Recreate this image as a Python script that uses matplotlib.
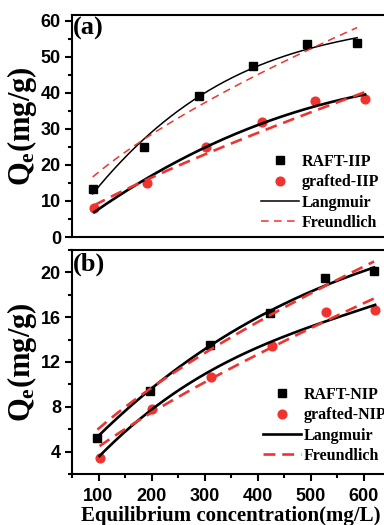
import numpy as np
import matplotlib
matplotlib.use("Agg")
import matplotlib.pyplot as plt
from matplotlib.ticker import MultipleLocator

plt.rcParams["mathtext.fontset"] = "custom"
plt.rcParams["mathtext.rm"] = "Liberation Serif:bold"
plt.rcParams["mathtext.bf"] = "Liberation Serif:bold"
plt.rcParams["mathtext.it"] = "Liberation Serif:bold"

RED = "#EF3430"

# ---- (a) imprinted polymers ----
raft_iip_c = [89, 186, 289, 392, 493, 588]
raft_iip_q = [13.3, 24.9, 39.0, 47.4, 53.5, 53.7]
graft_iip_c = [92, 192, 302, 409, 509, 603]
graft_iip_q = [8.1, 15.0, 25.0, 31.8, 37.7, 38.3]
# Langmuir fitted values at the measured concentrations
raft_iip_lang = [12.1, 26.8, 39.3, 47.0, 51.8, 55.4]
graft_iip_lang = [7.0, 16.0, 25.3, 31.4, 36.2, 39.6]
# Freundlich parameters (KF, 1/n)
raft_iip_freund = (0.853, 0.662)
graft_iip_freund = (0.228, 0.808)

# ---- (b) non-imprinted polymers ----
raft_nip_c = [98, 197, 311, 424, 528, 620]
raft_nip_q = [5.2, 9.45, 13.5, 16.4, 19.5, 20.1]
graft_nip_c = [102, 201, 312, 427, 530, 622]
graft_nip_q = [3.46, 7.83, 10.64, 13.42, 16.5, 16.65]
raft_nip_lang = [5.3, 9.55, 13.5, 16.45, 18.95, 20.4]
graft_nip_lang = [3.6, 7.8, 11.2, 13.85, 15.65, 17.1]
raft_nip_freund = (0.2614, 0.682)
graft_nip_freund = (0.1334, 0.760)

x_ticks = [100, 200, 300, 400, 500, 600]


def langmuir_line(ax, c, q, **kw):
    # smooth cubic through the fitted values
    coef = np.polyfit(c, q, 3)
    xs = np.linspace(c[0], c[-1], 300)
    return ax.plot(xs, np.polyval(coef, xs), **kw)[0]


def freundlich_line(ax, c, params, **kw):
    kf, inv_n = params
    xs = np.linspace(c[0], c[-1], 300)
    return ax.plot(xs, kf * xs ** inv_n, **kw)[0]


fig = plt.figure(figsize=(3.84, 5.25), dpi=100)
W, H = 384.0, 525.0
left, right = 72 / W, 390 / W
ax_a = fig.add_axes([left, 1 - 237 / H, right - left, 222 / H])
ax_b = fig.add_axes([left, 1 - 474 / H, right - left, 224 / H])

serif = "Liberation Serif"

for ax in (ax_a, ax_b):
    for sp in ax.spines.values():
        sp.set_linewidth(1.5)
    ax.set_xlim(50, 650)
    ax.tick_params(which="major", direction="out", length=5, width=1.5, pad=3)
    ax.tick_params(which="minor", direction="out", length=3, width=1.5)
    ax.tick_params(axis="x", pad=5)

legend_kw = dict(loc="upper left", bbox_transform=fig.transFigure, frameon=False,
                 borderpad=0, borderaxespad=0, handlelength=2.4, handletextpad=0.12,
                 labelspacing=0.27, prop=dict(family=serif, weight="bold", size=11.5))

# (a)
ms_sq, ms_c = 5.2, 6.3
h1, = ax_a.plot(raft_iip_c, raft_iip_q, "s", color="black", ms=ms_sq, ls="none")
h2, = ax_a.plot(graft_iip_c, graft_iip_q, "o", color=RED, ms=ms_c, ls="none")
h3 = langmuir_line(ax_a, raft_iip_c, raft_iip_lang, color="black", lw=1.1)
h4 = freundlich_line(ax_a, raft_iip_c, raft_iip_freund, color=RED, lw=1.1,
                     ls=(0, (5, 3.5)))
langmuir_line(ax_a, graft_iip_c, graft_iip_lang, color="black", lw=1.9)
freundlich_line(ax_a, graft_iip_c, graft_iip_freund, color=RED, lw=1.9,
                ls=(0, (4.5, 2.6)))
ax_a.set_ylim(0, 61.6)
ax_a.yaxis.set_major_locator(MultipleLocator(10))
ax_a.yaxis.set_minor_locator(MultipleLocator(5))
ax_a.tick_params(axis="x", which="both", bottom=False, labelbottom=False)
ax_a.text(0.004, 0.99, "(a)", transform=ax_a.transAxes, ha="left", va="top",
          family=serif, weight="bold", size=19)
ax_a.legend([h1, h2, h3, h4], ["RAFT-IIP", "grafted-IIP", "Langmuir", "Freundlich"],
            bbox_to_anchor=(261 / W, 1 - 154 / H), **legend_kw)

# (b)
g1, = ax_b.plot(raft_nip_c, raft_nip_q, "s", color="black", ms=ms_sq, ls="none")
g2, = ax_b.plot(graft_nip_c, graft_nip_q, "o", color=RED, ms=ms_c, ls="none")
g3 = langmuir_line(ax_b, raft_nip_c, raft_nip_lang, color="black", lw=1.9)
g4 = freundlich_line(ax_b, raft_nip_c, raft_nip_freund, color=RED, lw=1.9,
                     ls=(0, (4.5, 2.6)))
langmuir_line(ax_b, graft_nip_c, graft_nip_lang, color="black", lw=1.9)
freundlich_line(ax_b, graft_nip_c, graft_nip_freund, color=RED, lw=1.9,
                ls=(0, (4.5, 2.6)))
ax_b.set_ylim(2, 22)
ax_b.set_yticks([4, 8, 12, 16, 20])
ax_b.yaxis.set_minor_locator(MultipleLocator(2))
ax_b.set_xticks(x_ticks)
ax_b.xaxis.set_minor_locator(MultipleLocator(50))
ax_b.text(0.004, 0.99, "(b)", transform=ax_b.transAxes, ha="left", va="top",
          family=serif, weight="bold", size=19)
ax_b.legend([g1, g2, g3, g4], ["RAFT-NIP", "grafted-NIP", "Langmuir", "Freundlich"],
            bbox_to_anchor=(263 / W, 1 - 387 / H), **legend_kw)
ax_b.set_xlabel("Equilibrium concentration(mg/L)", family=serif, weight="bold",
                size=15, labelpad=1)

for ax in (ax_a, ax_b):
    for lab in ax.get_yticklabels() + ax.get_xticklabels():
        lab.set_family("Liberation Sans")
        lab.set_weight("bold")
        lab.set_size(13)
    ax.set_ylabel(r"$\mathbf{Q_e}$(mg/g)", family=serif, weight="bold", size=22)
    ax.yaxis.set_label_coords(-0.105, 0.5)

fig.savefig("out.png", dpi=100)
